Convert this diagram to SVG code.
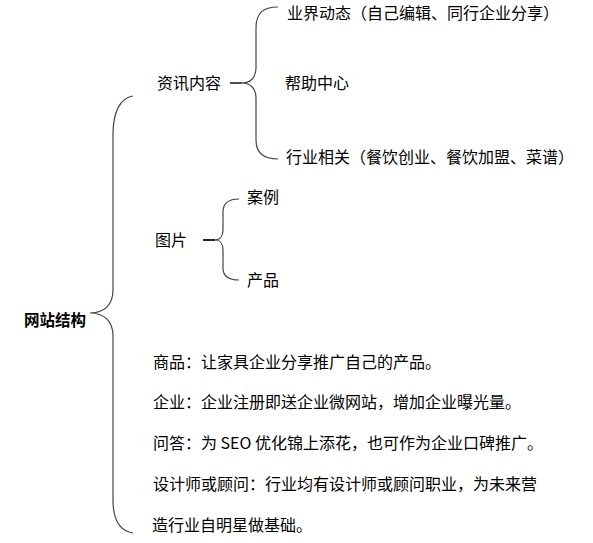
<svg xmlns="http://www.w3.org/2000/svg" width="593" height="543" viewBox="0 0 593 543">
<style>
text{font-family:"Noto Sans CJK SC","Noto Sans",sans-serif;font-size:16px;fill:#000}
.b{font-weight:bold;font-size:15.5px}
.br{fill:none;stroke:#444;stroke-width:1.2}
.tk{fill:none;stroke:#222;stroke-width:1.6}
</style>
<rect width="593" height="543" fill="#fff"/>
<g id="connectors">
<path class="br" d="M133,96 C120,98 113,112 113,135 L113,290 C113,305 104,313 90,313 C104,313 113,321 113,336 L113,500 C113,520 120,531 133,533"/>
<path class="tk" d="M230,83 L242,83"/>
<path class="br" d="M278,7 C263,7 256,13 256,28 L256,68 C256,78 250,83 242,83 C250,83 256,88 256,98 L256,140 C256,153 263,159 278,159"/>
<path class="tk" d="M203,240 L215,240" style="stroke-width:2"/>
<path class="br" d="M239,199 C228,199 223,203 223,212 L223,230 C223,236 220,240 215,240 C220,240 223,244 223,250 L223,268 C223,276 228,280 239,280"/>
</g>
<g id="n-root"><text class="b" x="24" y="326">网站结构</text></g>
<g id="n-zixun"><text x="157" y="89">资讯内容</text></g>
<g id="n-yejie"><text x="287" y="19">业界动态（自己编辑、同行企业分享）</text></g>
<g id="n-bangzhu"><text x="285" y="89">帮助中心</text></g>
<g id="n-hangye"><text x="286" y="163">行业相关（餐饮创业、餐饮加盟、菜谱）</text></g>
<g id="n-tupian"><text x="155" y="246">图片</text></g>
<g id="n-anli"><text x="247" y="203">案例</text></g>
<g id="n-chanpin"><text x="247" y="286">产品</text></g>
<g id="n-notes">
<text x="153" y="368">商品：让家具企业分享推广自己的产品。</text>
<text x="153" y="408">企业：企业注册即送企业微网站，增加企业曝光量。</text>
<text x="153" y="449">问答：为 SEO 优化锦上添花，也可作为企业口碑推广。</text>
<text x="153" y="490">设计师或顾问：行业均有设计师或顾问职业，为未来营</text>
<text x="152" y="531">造行业自明星做基础。</text>
</g>
</svg>
